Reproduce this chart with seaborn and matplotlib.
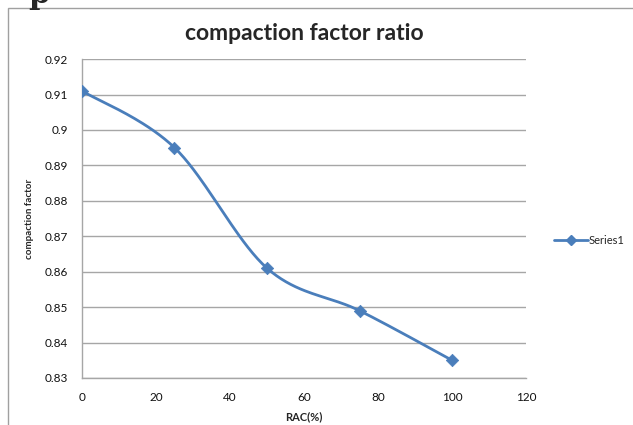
import numpy as np
import matplotlib
matplotlib.use("Agg")
import matplotlib.pyplot as plt
import seaborn as sns
import pandas as pd
from matplotlib.patches import Rectangle
from matplotlib.lines import Line2D

rac = [0, 25, 50, 75, 100]
cf = [0.911, 0.895, 0.861, 0.849, 0.835]
series_name = "Series1"

sns.set_style("white")
plt.rcParams['font.family'] = ['Lato', 'DejaVu Sans']

blue = "#4A7EBB"
df = pd.DataFrame({"RAC(%)": rac, "compaction factor": cf})


def smooth(x, y, n=40):
    # excel-like smoothed line: bezier segments with catmull-rom control points
    p = np.column_stack([x, y]).astype(float)
    pts = [p[0]]
    for i in range(len(p) - 1):
        p0 = p[i - 1] if i > 0 else p[i]
        p3 = p[i + 2] if i + 2 < len(p) else p[i + 1]
        c1 = p[i] + (p[i + 1] - p0) / 6
        c2 = p[i + 1] - (p3 - p[i]) / 6
        t = np.linspace(0, 1, n)[1:, None]
        seg = ((1 - t) ** 3 * p[i] + 3 * (1 - t) ** 2 * t * c1
               + 3 * (1 - t) * t ** 2 * c2 + t ** 3 * p[i + 1])
        pts.extend(seg)
    pts = np.array(pts)
    return pts[:, 0], pts[:, 1]


fig = plt.figure(figsize=(6.33, 4.25), dpi=100)
ax = fig.add_axes([0.1295, 0.1106, 0.7015, 0.7504])

sx, sy = smooth(df["RAC(%)"], df["compaction factor"])
ax.plot(sx, sy, color=blue, lw=2, zorder=3)
sns.scatterplot(data=df, x="RAC(%)", y="compaction factor", ax=ax, marker="D",
                s=40, color=blue, edgecolor=blue, zorder=4, legend=False)

ax.set_xlim(0, 120)
ax.set_ylim(0.83, 0.92)
ax.set_xticks(range(0, 121, 20))
ax.set_yticks(np.round(np.arange(0.83, 0.921, 0.01), 2))
ax.set_yticklabels(["0.83", "0.84", "0.85", "0.86", "0.87", "0.88", "0.89", "0.9", "0.91", "0.92"])
ax.grid(axis="y", color="#A6A6A6", lw=1)
ax.set_axisbelow(True)
for s in ["top", "right"]:
    ax.spines[s].set_visible(False)
for s in ["left", "bottom"]:
    ax.spines[s].set_color("#A6A6A6")
    ax.spines[s].set_linewidth(1)
ax.tick_params(axis="both", length=0, labelsize=8.5, colors="#111111", pad=10)
ax.set_xlabel("RAC(%)", fontsize=8, fontweight="bold", labelpad=6)
ax.set_ylabel("compaction factor", fontsize=7, fontweight="bold", labelpad=8)
ax.set_title("compaction factor ratio", fontsize=16.5, fontweight="bold", pad=14)

handle = Line2D([], [], color=blue, lw=2, marker="D", markersize=5)
fig.legend([handle], [series_name], loc="center left", bbox_to_anchor=(0.86, 0.435),
           frameon=False, fontsize=8, handlelength=3, handletextpad=0.1)

fig.patches.append(Rectangle((8 / 633, -0.1), 1.2, 1 - 8 / 425 + 0.1,
                             transform=fig.transFigure, fill=False,
                             edgecolor="#A0A0A0", lw=1))
fig.text(0.062, 1.012, "p", family="DejaVu Serif", fontsize=22, fontweight="bold",
         ha="center", va="center")

fig.savefig("out.png", dpi=100)
